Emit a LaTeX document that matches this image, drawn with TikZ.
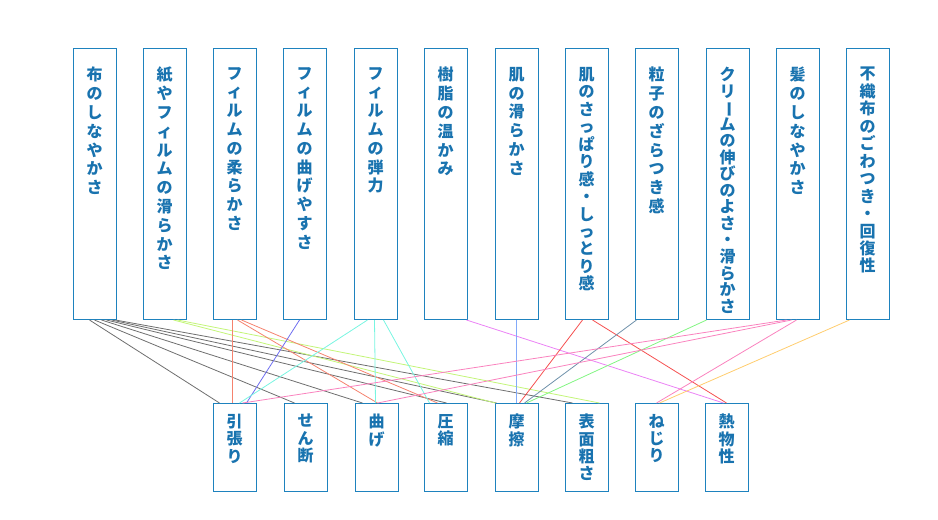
\documentclass[tikz,border=0pt]{standalone}
\usepackage{fontspec}
\newfontfamily\jp{Noto Sans CJK JP}
\usetikzlibrary{calc}

\definecolor{boxblue}{RGB}{30,130,190}
\definecolor{txtblue}{RGB}{25,115,175}
\definecolor{lgrey}{RGB}{110,110,110}
\definecolor{lyelgreen}{RGB}{195,245,120}
\definecolor{lsalmon}{RGB}{245,130,110}
\definecolor{lviolet}{RGB}{110,110,240}
\definecolor{laqua}{RGB}{120,245,225}
\definecolor{lorchid}{RGB}{235,130,245}
\definecolor{lsky}{RGB}{130,170,250}
\definecolor{lred}{RGB}{245,80,80}
\definecolor{lslate}{RGB}{110,145,170}
\definecolor{lgreen}{RGB}{130,245,130}
\definecolor{lpink}{RGB}{250,130,190}
\definecolor{lorange}{RGB}{255,205,110}

% vertical (tate) text: top gap, box height, pitch, characters
\makeatletter
\newcommand\tate[4]{\vbox to #2{\vskip #1\baselineskip=#3\relax\lineskiplimit=-30pt\lineskip=0pt
  \@tfor\tate@c:=#4\do{\hbox to 18pt{\hss\tate@c\hss}}\vfil}}
\makeatother
\newcommand\toptext[2][14.1pt]{\tate{14pt}{203.25pt}{#1}{#2}}
\newcommand\bottext[1]{\tate{8pt}{66pt}{13pt}{#1}}
\newcommand\tatebar{\rotatebox[origin=c]{-90}{ー}}

\tikzset{
  tbox/.style={draw=boxblue, line width=0.75pt, inner sep=0pt, minimum width=32.25pt,
    anchor=north, text=txtblue, font=\jp\bfseries\fontsize{12}{14}\selectfont},
  link/.style={line width=0.6pt},
}

\begin{document}
\begin{tikzpicture}[x=0.75pt,y=-0.75pt]
\useasboundingbox (0,0) rectangle (938,519);
% upper row
\node[tbox] (t1) at (94.5,48) {\toptext{布のしなやかさ}};
\node[tbox] (t2) at (164.5,48) {\toptext{紙やフィルムの滑らかさ}};
\node[tbox] (t3) at (234.5,48) {\toptext{フィルムの柔らかさ}};
\node[tbox] (t4) at (304.5,48) {\toptext{フィルムの曲げやすさ}};
\node[tbox] (t5) at (375.5,48) {\toptext{フィルムの弾力}};
\node[tbox] (t6) at (445.5,48) {\toptext{樹脂の温かみ}};
\node[tbox] (t7) at (516.5,48) {\toptext{肌の滑らかさ}};
\node[tbox] (t8) at (586.5,48) {\toptext[13.1pt]{肌のさっぱり感・しっとり感}};
\node[tbox] (t9) at (656.5,48) {\toptext{粒子のざらつき感}};
\node[tbox] (t10) at (727.5,48) {\toptext[12.4pt]{クリ{\tatebar}ムの伸びのよさ・滑らかさ}};
\node[tbox] (t11) at (797.5,48) {\toptext{髪のしなやかさ}};
\node[tbox] (t12) at (867.5,48) {\toptext[13.1pt]{不織布のごわつき・回復性}};
% lower row
\node[tbox] (b1) at (234.5,403) {\bottext{引張り}};
\node[tbox] (b2) at (305.5,403) {\bottext{せん断}};
\node[tbox] (b3) at (376.5,403) {\bottext{曲げ}};
\node[tbox] (b4) at (445.5,403) {\bottext{圧縮}};
\node[tbox] (b5) at (516.5,403) {\bottext{摩擦}};
\node[tbox] (b6) at (586.5,403) {\bottext{表面粗さ}};
\node[tbox] (b7) at (656.5,403) {\bottext{ねじり}};
\node[tbox] (b8) at (726.5,403) {\bottext{熱物性}};
% links
\draw[link,lgrey] ($(t1.south west)+(17,0)$) -- ($(b1.north west)+(7,0)$);
\draw[link,lgrey] ($(t1.south west)+(22,0)$) -- ($(b2.north west)+(11,0)$);
\draw[link,lgrey] ($(t1.south west)+(29,0)$) -- ($(b3.north west)+(8,0)$);
\draw[link,lgrey] ($(t1.south west)+(34,0)$) -- ($(b4.north west)+(23,0)$);
\draw[link,lgrey] ($(t1.south west)+(39,0)$) -- ($(b5.north west)+(2,0)$);
\draw[link,lgrey] ($(t1.south west)+(43,0)$) -- ($(b6.north west)+(8,0)$);
\draw[link,lyelgreen] ($(t2.south west)+(31,0)$) -- ($(b5.north west)+(1,0)$);
\draw[link,lyelgreen] ($(t2.south west)+(35,0)$) -- ($(b6.north west)+(35,0)$);
\draw[link,lsalmon] ($(t3.south west)+(20,0)$) -- ($(b1.north west)+(20,0)$);
\draw[link,lsalmon] ($(t3.south west)+(25,0)$) -- ($(b3.north west)+(23,0)$);
\draw[link,lsalmon] ($(t3.south west)+(29,0)$) -- ($(b4.north west)+(14,0)$);
\draw[link,lviolet] ($(t4.south west)+(17,0)$) -- ($(b1.north west)+(34,0)$);
\draw[link,laqua] ($(t5.south west)+(14,0)$) -- ($(b1.north west)+(27,0)$);
\draw[link,laqua] ($(t5.south west)+(21,0)$) -- ($(b3.north west)+(21,0)$);
\draw[link,laqua] ($(t5.south west)+(30,0)$) -- ($(b4.north west)+(6,0)$);
\draw[link,lorchid] ($(t6.south west)+(43,0)$) -- ($(b8.north west)+(19,0)$);
\draw[link,lsky] ($(t7.south west)+(22,0)$) -- ($(b5.north west)+(22,0)$);
\draw[link,lred] ($(t8.south west)+(18,0)$) -- ($(b5.north west)+(25,0)$);
\draw[link,lred] ($(t8.south west)+(28,0)$) -- ($(b8.north west)+(22,0)$);
\draw[link,lslate] ($(t9.south west)+(2,0)$) -- ($(b5.north west)+(30,0)$);
\draw[link,lgreen] ($(t10.south west)+(1,0)$) -- ($(b5.north west)+(32,0)$);
\draw[link,lpink] ($(t11.south west)+(11,0)$) -- ($(b1.north west)+(30,0)$);
\draw[link,lpink] ($(t11.south west)+(16,0)$) -- ($(b3.north west)+(23,0)$);
\draw[link,lpink] ($(t11.south west)+(21,0)$) -- ($(b7.north west)+(22,0)$);
\draw[link,lorange] ($(t12.south west)+(4,0)$) -- ($(b7.north west)+(25,0)$);
\end{tikzpicture}
\end{document}
